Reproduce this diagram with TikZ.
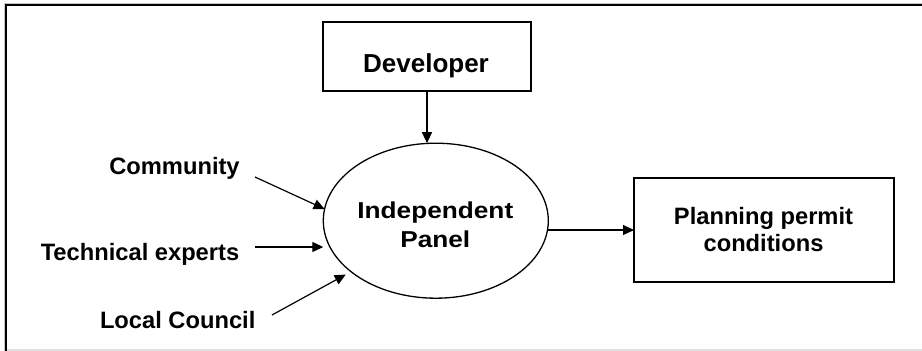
\documentclass[tikz,border=0pt]{standalone}
\usepackage{fontspec}
\setmainfont{Liberation Sans}
\newfontfamily\widefont[FakeStretch=1.14]{Liberation Sans}
\usetikzlibrary{arrows.meta,shapes.geometric}
\begin{document}
\begin{tikzpicture}[x=1pt,y=-1pt,
  boxnode/.style={draw=black,line width=1.6pt,rectangle,inner sep=0pt,outer sep=0pt},
  ellnode/.style={draw=black,line width=1.3pt,ellipse,inner sep=0pt,outer sep=0pt,minimum width=225pt,minimum height=155pt},
  lbl/.style={inner sep=0pt,anchor=base,font=\fontsize{23.7}{28}\selectfont\bfseries},
  devlbl/.style={lbl,font=\fontsize{26}{30}\selectfont\bfseries},
  elllbl/.style={lbl,font=\widefont\fontsize{23}{28}\selectfont\bfseries},
  arr/.style={line width=1.2pt,-{Triangle[length=11pt,width=10pt]}},
  frameline/.style={line width=2pt,black}
]
\useasboundingbox (0,0) rectangle (922,351);
% frame
\draw[gray!45,line width=1pt] (4,3.5) -- (922,3.5);
\draw[gray!45,line width=1pt] (4.3,3.5) -- (4.3,351);
\draw[frameline] (6,5) -- (922,5);
\draw[frameline] (6.2,4) -- (6.2,351);
\draw[gray!25,line width=1.5pt] (7,350) -- (922,350);

% shapes
\node[boxnode,minimum width=208pt,minimum height=69pt] (dev) at (427,56.5) {};
\node[ellnode] (panel) at (435.8,220.7) {};
\node[boxnode,minimum width=260pt,minimum height=104pt] (plan) at (764,230) {};

% texts
\node[devlbl] (devtxt) at (426,72.3) {Developer};
\node[elllbl] (paneltxta) at (435.3,218.3) {Independent};
\node[elllbl] (paneltxtb) at (435.3,247.3) {Panel};
\node[lbl] (plantxta) at (763.5,224) {Planning permit};
\node[lbl] (plantxtb) at (763.5,251.7) {conditions};
\node[lbl] (comm) at (174.5,174) {Community};
\node[lbl] (tech) at (140,260) {Technical experts};
\node[lbl] (local) at (177.7,328) {Local Council};

% arrow start points
\coordinate (commS) at (255,177);
\coordinate (techS) at (255,247);
\coordinate (localS) at (272,315);

% connectors
\draw[arr] (dev.south) -- (dev.south |- panel.north);
\draw[arr] (commS) -- (panel.174);
\draw[arr] (techS) -- (techS -| panel.west);
\draw[arr,shorten >=6pt] (localS) -- (panel.211);
\draw[arr] (plan.west -| panel.east) -- (plan.west);
\end{tikzpicture}
\end{document}
